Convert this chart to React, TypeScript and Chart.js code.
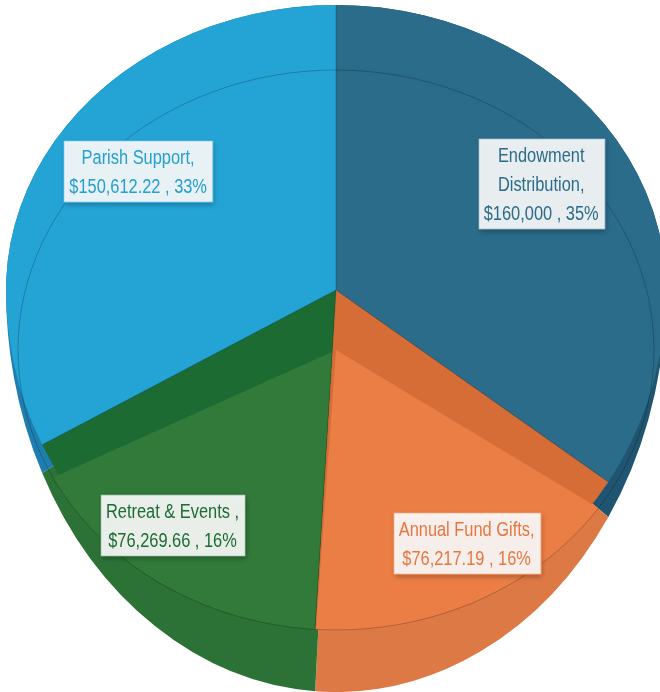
import React, { useEffect, useRef } from "react";
import { Chart, registerables } from "chart.js";

Chart.register(...registerables);

// ---- data ----
const categories = ["Endowment Distribution", "Annual Fund Gifts", "Retreat & Events ", "Parish Support"];
const amounts = [160000, 76217.19, 76269.66, 150612.22];

// ---- styles ----
const sliceColors = ["#2B6C8A", "#EA7E45", "#327A3A", "#24A3D5"];
const bandColors = ["#2B6C8A", "#D66C36", "#1B6B33", "#24A3D5"];
const wallColors = ["#1F5570", "#DC7944", "#2C7236", "#1E7EAE"];
const textColors = ["#2B6C8A", "#E8773F", "#1B6B33", "#239FD1"];
const boxBorders = ["rgba(43,108,138,0.55)", "rgba(234,126,69,0.75)", "rgba(27,107,51,0.55)", "rgba(36,163,213,0.7)"];

const W = 660;
const H = 692;
const CX = 336;
const CY = 290;
const RX = 330;
const TOP_SY = 285 / 330;
const FACE_SY = 1.03;
const WALL_SY = 402 / 330;
const B_CX = 336;
const B_CY = 350;
const B_RX = 318;
const B_SY = 280 / 318;
const FONT = "20px 'Liberation Sans', Arial, sans-serif";
const NARROW = 0.82;
const LH = 29;

function applyT(ctx: CanvasRenderingContext2D, arc: any, cx: number, cy: number, rx: number, sy: number) {
  const k = rx / arc.outerRadius;
  ctx.translate(cx, cy);
  ctx.scale(k, k * sy);
  ctx.translate(-arc.x, -arc.y);
}

function fillArc(ctx: CanvasRenderingContext2D, arc: any, color: string, cx: number, cy: number, rx: number, sy: number) {
  const saved = arc.options;
  arc.options = { ...saved, backgroundColor: color, borderWidth: 0, offset: 0, spacing: 0 };
  ctx.save();
  applyT(ctx, arc, cx, cy, rx, sy);
  arc.draw(ctx);
  ctx.restore();
  arc.options = saved;
}

function halves(ctx: CanvasRenderingContext2D, cy: number, topFn: () => void, botFn: () => void) {
  ctx.save();
  ctx.beginPath();
  ctx.rect(-5000, -5000, 10000, 5000 + cy + 0.5);
  ctx.clip();
  topFn();
  ctx.restore();
  ctx.save();
  ctx.beginPath();
  ctx.rect(-5000, cy - 0.5, 10000, 5000);
  ctx.clip();
  botFn();
  ctx.restore();
}

function clipSector(ctx: CanvasRenderingContext2D, arc: any, cx: number, cy: number, rx: number, sy: number, rMul: number) {
  ctx.save();
  applyT(ctx, arc, cx, cy, rx, sy);
  ctx.beginPath();
  ctx.moveTo(arc.x, arc.y);
  ctx.arc(arc.x, arc.y, arc.outerRadius * rMul, arc.startAngle, arc.endAngle);
  ctx.closePath();
  ctx.restore();
  ctx.clip();
}

function textW(ctx: CanvasRenderingContext2D, t: string) {
  return ctx.measureText(t).width * NARROW;
}

function wrap(ctx: CanvasRenderingContext2D, text: string, maxW: number): string[] {
  const words = text.split(" ").filter((w) => w.length > 0);
  const lines: string[] = [];
  let cur = "";
  for (const w of words) {
    const t = cur ? cur + " " + w : w;
    if (cur && textW(ctx, t) > maxW) {
      lines.push(cur);
      cur = w;
    } else cur = t;
  }
  if (cur) lines.push(cur);
  return lines;
}

function money(v: number) {
  return "$" + v.toLocaleString("en-US", { minimumFractionDigits: 0, maximumFractionDigits: 2 });
}

const pie3d = {
  id: "pie3d",
  beforeDatasetsDraw(chart: any) {
    const ctx: CanvasRenderingContext2D = chart.ctx;
    const arcs = chart.getDatasetMeta(0).data as any[];
    // side wall
    halves(
      ctx,
      CY,
      () => arcs.forEach((a, i) => fillArc(ctx, a, wallColors[i], CX, CY, RX, TOP_SY)),
      () => arcs.forEach((a, i) => fillArc(ctx, a, wallColors[i], CX, CY, RX, WALL_SY))
    );
    // top face
    halves(
      ctx,
      CY,
      () => arcs.forEach((a, i) => fillArc(ctx, a, bandColors[i], CX, CY, RX, TOP_SY)),
      () => arcs.forEach((a, i) => fillArc(ctx, a, bandColors[i], CX, CY, RX, FACE_SY))
    );
    // far face seen through
    arcs.forEach((a, i) => {
      if (bandColors[i] === sliceColors[i]) return;
      ctx.save();
      clipSector(ctx, a, CX, CY, RX, FACE_SY, 1.6);
      fillArc(ctx, a, sliceColors[i], B_CX, B_CY, B_RX, B_SY);
      ctx.restore();
    });
    // rim line
    const a0 = arcs[0];
    ctx.save();
    applyT(ctx, a0, B_CX, B_CY, B_RX, B_SY);
    ctx.beginPath();
    ctx.arc(a0.x, a0.y, a0.outerRadius, 0, Math.PI * 2);
    ctx.restore();
    ctx.save();
    ctx.strokeStyle = "rgba(0,0,0,0.22)";
    ctx.lineWidth = 1;
    ctx.stroke();
    ctx.restore();
    // slice edges
    ctx.save();
    ctx.strokeStyle = "rgba(0,0,0,0.2)";
    ctx.lineWidth = 1;
    arcs.forEach((a) => {
      const s = Math.sin(a.startAngle);
      const c = Math.cos(a.startAngle);
      const sy = s < 0 ? TOP_SY : FACE_SY;
      ctx.beginPath();
      ctx.moveTo(CX, CY);
      ctx.lineTo(CX + RX * c, CY + RX * s * sy);
      ctx.stroke();
    });
    ctx.restore();
    return false;
  },
  afterDraw(chart: any) {
    const ctx: CanvasRenderingContext2D = chart.ctx;
    const arcs = chart.getDatasetMeta(0).data as any[];
    const total = amounts.reduce((s, v) => s + v, 0);
    ctx.save();
    ctx.font = FONT;
    arcs.forEach((a, i) => {
      const mid = (a.startAngle + a.endAngle) / 2;
      const c = Math.cos(mid);
      const s = Math.sin(mid);
      const upper = s < 0;
      const dist = RX * (upper ? 0.703 : 0.903);
      const x = CX + dist * c;
      const y = CY + dist * s * (upper ? 0.98 : 0.945);
      const lines = [
        ...wrap(ctx, categories[i] + ",", 150),
        money(amounts[i]) + " , " + Math.round((amounts[i] / total) * 100) + "%",
      ];
      const w = Math.max(...lines.map((l) => textW(ctx, l))) + 12;
      const h = lines.length * LH + 4;
      const bx = Math.round(x - w / 2) + 0.5;
      const by = Math.round(y - h / 2) + 0.5;
      ctx.save();
      ctx.shadowColor = "rgba(0,0,0,0.35)";
      ctx.shadowBlur = 5;
      ctx.shadowOffsetX = 1;
      ctx.shadowOffsetY = 2;
      ctx.fillStyle = "rgba(255,255,255,0.9)";
      ctx.fillRect(bx, by, w, h);
      ctx.restore();
      ctx.strokeStyle = boxBorders[i];
      ctx.lineWidth = 1.5;
      ctx.strokeRect(bx, by, w, h);
      ctx.fillStyle = textColors[i];
      ctx.textAlign = "center";
      ctx.textBaseline = "middle";
      lines.forEach((l, j) => {
        ctx.save();
        ctx.translate(x, by + 2 + LH * (j + 0.5) + 1);
        ctx.scale(NARROW, 1);
        ctx.fillText(l, 0, 0);
        ctx.restore();
      });
    });
    ctx.restore();
  },
};

export default function App() {
  const ref = useRef<HTMLCanvasElement>(null);
  useEffect(() => {
    if (!ref.current) return;
    const chart = new Chart(ref.current, {
      type: "pie",
      data: {
        labels: categories,
        datasets: [{ data: amounts, backgroundColor: sliceColors, borderWidth: 0, clip: false } as any],
      },
      options: {
        responsive: false,
        animation: false,
        events: [],
        layout: { padding: 0 },
        plugins: { legend: { display: false }, tooltip: { enabled: false } },
      },
      plugins: [pie3d as any],
    });
    return () => chart.destroy();
  }, []);
  return (
    <div style={{ position: "absolute", left: 0, top: 0, width: W, height: H, overflow: "hidden", background: "#fff" }}>
      <canvas ref={ref} width={W} height={H} style={{ display: "block", width: W, height: H }} />
    </div>
  );
}
